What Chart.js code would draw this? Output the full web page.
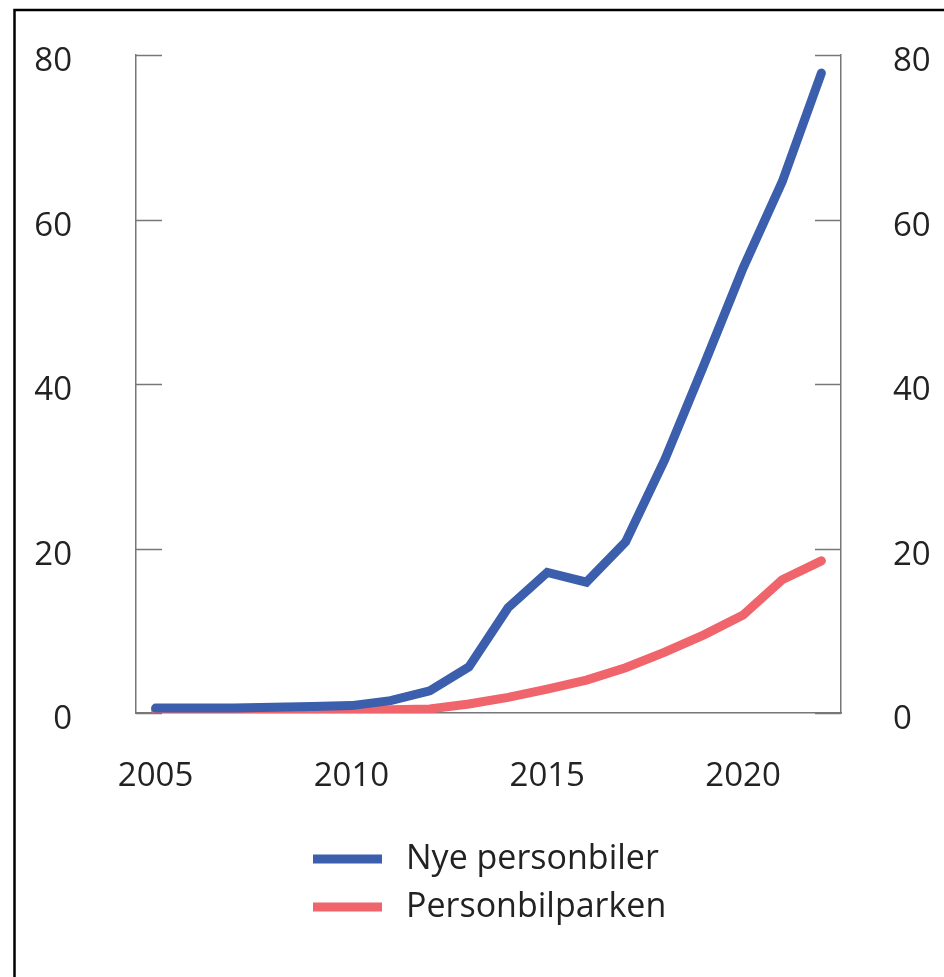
<!DOCTYPE html>
<html>
<head>
<meta charset="utf-8">
<script src="https://cdn.jsdelivr.net/npm/chart.js@4"></script>
<style>
    body { margin: 0; background: #fff; }
    #wrap { width: 944px; height: 977px; }
</style>
</head>
<body>
<div id="wrap"><canvas id="chart" width="944" height="977"></canvas></div>
<script>
const years = [2005, 2006, 2007, 2008, 2009, 2010, 2011, 2012, 2013, 2014, 2015, 2016, 2017, 2018, 2019, 2020, 2021, 2022];
const xTickLabels = [2005, 2010, 2015, 2020];
const yTicks = [0, 20, 40, 60, 80];

const nyePersonbiler = [0.6, 0.6, 0.6, 0.7, 0.8, 0.9, 1.5, 2.7, 5.6, 12.8, 17.1, 15.9, 20.8, 30.8, 42.3, 54.1, 64.6, 77.8];
const personbilparken = [0.3, 0.3, 0.3, 0.3, 0.3, 0.35, 0.4, 0.5, 1.1, 1.9, 2.9, 4.0, 5.5, 7.4, 9.5, 11.9, 16.2, 18.5];

const FONT = '"Open Sans", sans-serif';
const TEXT = '#222';
const AXIS = '#777';

// frame round the figure, inside ticks, and the legend
const decor = {
    id: 'decor',
    beforeDraw(chart) {
        const c = chart.ctx;
        c.save();
        c.strokeStyle = '#000';
        c.lineWidth = 2.5;
        c.strokeRect(14.5, 10, 1000, 1000);
        c.restore();
    },
    afterDraw(chart) {
        const c = chart.ctx;
        const a = chart.chartArea;
        const y = chart.scales.y;
        c.save();
        c.strokeStyle = AXIS;
        c.lineWidth = 1.5;
        yTicks.forEach(v => {
            const py = Math.round(y.getPixelForValue(v)) + 0.5;
            c.beginPath();
            c.moveTo(a.left, py); c.lineTo(a.left + 26, py);
            c.moveTo(a.right - 26, py); c.lineTo(a.right, py);
            c.stroke();
        });
        // legend
        c.font = `34px ${FONT}`;
        c.textBaseline = 'middle';
        c.fillStyle = TEXT;
        chart.data.datasets.forEach((ds, i) => {
            const ly = 859 + i * 48;
            c.strokeStyle = ds.borderColor;
            c.lineWidth = 9;
            c.lineCap = 'butt';
            c.beginPath();
            c.moveTo(313, ly); c.lineTo(382, ly);
            c.stroke();
            c.fillText(ds.label, 406, ly);
        });
        c.restore();
    }
};

const axisBorder = { display: true, color: AXIS, width: 1.5 };

const fitY = w => s => {
    s.width = w;
    s.paddingTop = 0;
    s.paddingBottom = 0;
};

new Chart(document.getElementById('chart').getContext('2d'), {
    type: 'line',
    data: {
        labels: years,
        datasets: [{
            label: 'Nye personbiler',
            data: nyePersonbiler,
            borderColor: '#3b5ead',
            borderWidth: 9,
            borderCapStyle: 'round',
            pointRadius: 0,
            tension: 0
        }, {
            label: 'Personbilparken',
            data: personbilparken,
            borderColor: '#f0646b',
            borderWidth: 9,
            borderCapStyle: 'round',
            pointRadius: 0,
            tension: 0
        }]
    },
    options: {
        responsive: false,
        animation: false,
        layout: { padding: { top: 55, left: 0, right: 0, bottom: 0 } },
        plugins: {
            legend: { display: false },
            tooltip: { enabled: false }
        },
        scales: {
            x: {
                type: 'category',
                offset: true,
                grid: { display: false, drawTicks: false },
                border: axisBorder,
                ticks: {
                    autoSkip: false,
                    maxRotation: 0,
                    padding: 44,
                    color: TEXT,
                    font: { family: FONT, size: 33 },
                    callback: (v, i) => xTickLabels.includes(years[i]) ? String(years[i]) : ''
                },
                afterFit: s => { s.height = 264; s.paddingLeft = 0; s.paddingRight = 0; }
            },
            y: {
                position: 'left',
                min: 0,
                max: 80,
                grid: { drawOnChartArea: false, drawTicks: false },
                border: axisBorder,
                ticks: {
                    stepSize: 20,
                    padding: 64,
                    labelOffset: 7,
                    color: TEXT,
                    font: { family: FONT, size: 33 }
                },
                afterBuildTicks: s => { s.ticks = yTicks.map(v => ({ value: v })); },
                afterFit: fitY(136)
            },
            y2: {
                position: 'right',
                min: 0,
                max: 80,
                grid: { drawOnChartArea: false, drawTicks: false },
                border: axisBorder,
                ticks: {
                    stepSize: 20,
                    padding: 52,
                    labelOffset: 7,
                    color: TEXT,
                    font: { family: FONT, size: 33 }
                },
                afterBuildTicks: s => { s.ticks = yTicks.map(v => ({ value: v })); },
                afterFit: fitY(103)
            }
        }
    },
    plugins: [decor]
});
</script>
</body>
</html>
